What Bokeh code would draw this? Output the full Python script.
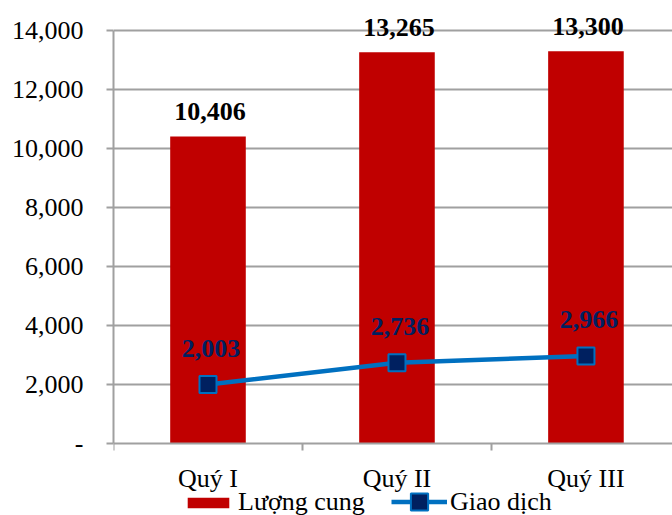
from bokeh.plotting import figure
from bokeh.models import (Range1d, FixedTicker, NumeralTickFormatter, Legend, LegendItem,
                          ColumnDataSource)
from bokeh.core.properties import value
from bokeh.embed import file_html
from bokeh.resources import INLINE

categories = ["Quý I", "Quý II", "Quý III"]
supply = [10406, 13265, 13300]
transactions = [2003, 2736, 2966]
supply_labels = ["10,406", "13,265", "13,300"]
trans_labels = ["2,003", "2,736", "2,966"]
y_ticks = [0, 2000, 4000, 6000, 8000, 10000, 12000, 14000]

FONT = value("Liberation Serif")
xs = [i + 0.5 for i in range(len(categories))]
src = ColumnDataSource(dict(x=xs, supply=supply, trans=transactions,
                            sl=supply_labels, tl=trans_labels))

p = figure(width=672, height=515, output_backend="svg", toolbar_location=None,
           x_range=Range1d(0, 2.958), y_range=Range1d(-2441, 15017),
           min_border_left=113, min_border_right=0, min_border_top=0, min_border_bottom=0)
p.outline_line_color = None
p.background_fill_color = "white"
p.border_fill_color = "white"

bars = p.vbar(x="x", top="supply", width=0.40, source=src, fill_color="#C00000", line_color=None)
line = p.line(x="x", y="trans", source=src, line_color="#0070C0", line_width=4.5)
marks = p.scatter(x="x", y="trans", source=src, marker="square", size=17,
                  fill_color="#002060", line_color="#0070C0", line_width=2)

p.text(x="x", y="supply", text="sl", source=src, text_font=FONT, text_font_style="bold",
       text_font_size="26px", text_color="black", text_align="center",
       text_baseline="alphabetic", y_offset=-25, x_offset=2)
p.text(x="x", y="trans", text="tl", source=src, text_font=FONT, text_font_style="bold",
       text_font_size="26px", text_color="#002060", text_align="center",
       text_baseline="alphabetic", y_offset=-36, x_offset=3)

# y axis
ya = p.yaxis[0]
ya.ticker = FixedTicker(ticks=y_ticks, minor_ticks=[])
ya.formatter = NumeralTickFormatter(format="0,0")
ya.major_label_overrides = {0: "-"}
ya.bounds = (0, 14000)
ya.axis_line_color = "#A0A0A0"
ya.axis_line_width = 2
ya.major_tick_line_color = "#A0A0A0"
ya.major_tick_line_width = 2
ya.major_tick_out = 7
ya.major_tick_in = 0
ya.major_label_standoff = 23
ya.major_label_text_font = "Liberation Serif"
ya.major_label_text_font_size = "26px"
ya.major_label_text_color = "black"

# x axis, pinned at y = 0 inside the frame
xa = p.xaxis[0]
xa.fixed_location = 0
xa.ticker = FixedTicker(ticks=xs, minor_ticks=[0, 1, 2, 3])
xa.major_label_overrides = {x: c for x, c in zip(xs, categories)}
xa.axis_line_color = "#A0A0A0"
xa.axis_line_width = 2
xa.major_tick_out = 0
xa.major_tick_in = 0
xa.minor_tick_line_color = "#A0A0A0"
xa.minor_tick_line_width = 2
xa.minor_tick_out = 7
xa.minor_tick_in = 0
xa.major_label_standoff = 14
xa.major_label_text_font = "Liberation Serif"
xa.major_label_text_font_size = "26px"
xa.major_label_text_color = "black"

p.xgrid.grid_line_color = None
p.ygrid.ticker = FixedTicker(ticks=y_ticks[1:])
p.ygrid.grid_line_color = "#A0A0A0"
p.ygrid.grid_line_width = 2

common = dict(orientation="horizontal", padding=0, margin=0, border_line_color=None,
              background_fill_alpha=0, label_text_font="Liberation Serif",
              label_text_font_size="26px", label_text_color="black", label_height=26)
legend1 = Legend(items=[LegendItem(label="Lượng cung", renderers=[bars])],
                 location=(69, -2), glyph_width=52, glyph_height=13, label_standoff=4, **common)
legend2 = Legend(items=[LegendItem(label="Giao dịch", renderers=[line, marks])],
                 location=(278, -8), glyph_width=56, glyph_height=43, label_standoff=3, **common)
p.add_layout(legend1, "center")
p.add_layout(legend2, "center")

open("out.html", "w").write(file_html(p, INLINE))
